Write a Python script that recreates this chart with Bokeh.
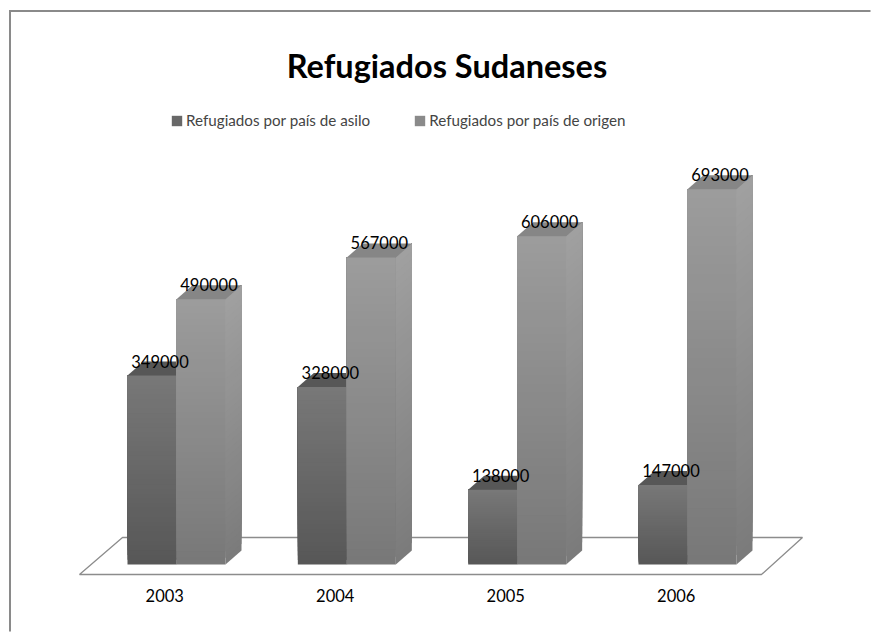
import numpy as np
from bokeh.plotting import figure
from bokeh.models import Range1d, Legend, LegendItem, ColumnDataSource
from bokeh.core.properties import value
from bokeh.embed import file_html
from bokeh.resources import INLINE

# ---------------- data ----------------
years = ["2003", "2004", "2005", "2006"]
asilo = [349000, 328000, 138000, 147000]
origen = [490000, 567000, 606000, 693000]
series_names = ["Refugiados por país de asilo", "Refugiados por país de origen"]
title_text = "Refugiados Sudaneses"

# ---------------- layout / style ----------------
W, H = 871, 632
PX = 1000 / 0.5415          # value units per screen pixel
BASE_Y = 564                # screen y of value 0


def vy(page_y):
    return (BASE_Y - page_y) * PX


CAT0, STEP, BW = 176.0, 170.33, 49.0
DX, DYP = 16.0, 14.0
DY = DYP * PX
N = 40
FONT = "Lato"

p = figure(width=W, height=H, x_range=Range1d(0, W), y_range=Range1d(vy(H), vy(0)),
           output_backend="svg", toolbar_location=None, min_border=0,
           x_axis_type=None, y_axis_type=None)
p.xgrid.visible = False
p.ygrid.visible = False
p.outline_line_color = None
p.background_fill_color = "white"
p.border_fill_color = "white"


def hx(c):
    return "#%02x%02x%02x" % tuple(int(round(v)) for v in c)


def lerp(c0, c1, t):
    a = np.array([int(c0[i:i + 2], 16) for i in (1, 3, 5)], float)
    b = np.array([int(c1[i:i + 2], 16) for i in (1, 3, 5)], float)
    return hx(a + (b - a) * t)


# outer frame (only top and left edges fall inside the picture)
p.segment(x0=[9.5, 8.5], y0=[vy(H - 1), vy(10.5)], x1=[9.5, W - 1], y1=[vy(9.5), vy(10.5)],
          line_color="#8a8a8a", line_width=2, line_cap="butt")

# floor
p.patch(x=[79, 761, 802, 122], y=[vy(574), vy(574), vy(537), vy(537)],
        fill_color="white", line_color="#8c8c8c", line_width=1.3)

styles = [
    dict(front=("#575757", "#787878"), side=("#5a5a5a", "#7a7a7a"), top="#575757"),
    dict(front=("#787878", "#9c9c9c"), side=("#7b7b7b", "#a0a0a0"), top="#868686"),
]

legend_renderers = []
for s, vals in enumerate([asilo, origen]):
    st = styles[s]
    fl, fr, fb, ft, fc = [], [], [], [], []
    sxs, sys, sc = [], [], []
    txs, tys = [], []
    for i, v in enumerate(vals):
        c = CAT0 + STEP * i
        left = c - BW if s == 0 else c
        right = left + BW
        # overlapping strips (each from its start up to the top) -> seamless gradient
        for k in range(N):
            b = v * k / N
            col = lerp(st["front"][0], st["front"][1], (k + 0.5) / N)
            fl.append(left); fr.append(right); fb.append(b); ft.append(v); fc.append(col)
            scol = lerp(st["side"][0], st["side"][1], (k + 0.5) / N)
            sxs.append([right, right + DX, right + DX, right])
            sys.append([b, b + DY, v + DY, v])
            sc.append(scol)
        txs.append([left, right, right + DX, left + DX])
        tys.append([v, v, v + DY, v + DY])
    src = ColumnDataSource(dict(left=fl, right=fr, bottom=fb, top=ft, color=fc))
    fr_r = p.quad(left="left", right="right", bottom="bottom", top="top", source=src,
                  fill_color="color", line_color=None)
    p.patches(xs=sxs, ys=sys, fill_color=sc, line_color=None)
    p.patches(xs=txs, ys=tys, fill_color=st["top"], line_color=None)
    legend_renderers.append(fr_r)

# data labels
for s, vals in enumerate([asilo, origen]):
    lx, ly, lt = [], [], []
    for i, v in enumerate(vals):
        c = CAT0 + STEP * i
        left = c - BW if s == 0 else c
        lx.append(left + BW / 2 + 8)
        ly.append(v + 14.5 * PX)
        lt.append(str(v))
    p.text(x=lx, y=ly, text=lt, text_align="center", text_baseline="alphabetic",
           text_font=value(FONT), text_font_size="16.5px", text_color="#000000")

# category labels
p.text(x=[79 + 170.5 * (i + 0.5) for i in range(len(years))], y=[vy(595)] * len(years), text=years,
       text_align="center", text_baseline="alphabetic", text_font=value(FONT),
       text_font_size="16.5px", text_color="#000000")

# title
p.text(x=[446.5], y=[vy(64.5)], text=[title_text], text_align="center", text_baseline="alphabetic",
       text_font=value(FONT), text_font_style="bold", text_font_size="32.5px", text_color="#000000")

legend = Legend(items=[LegendItem(label=series_names[0], renderers=[legend_renderers[0]], index=N // 2),
                       LegendItem(label=series_names[1], renderers=[legend_renderers[1]], index=N // 2)],
                orientation="horizontal", location=(170, H - 129), glyph_width=13, glyph_height=13,
                label_standoff=3, spacing=43, padding=0, margin=0, border_line_color=None,
                background_fill_alpha=0, label_text_font=FONT, label_text_font_size="15.2px",
                label_height=13)
p.add_layout(legend)

open("out.html", "w").write(file_html(p, INLINE))
